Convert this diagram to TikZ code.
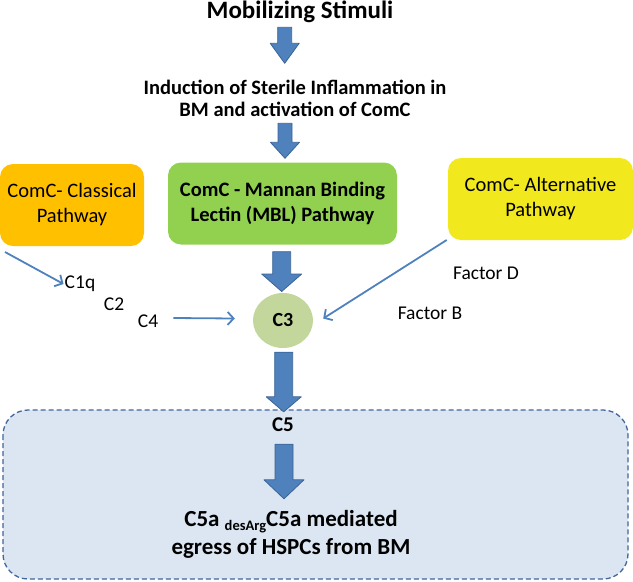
\documentclass[tikz,border=0pt]{standalone}
\usepackage{fontspec}
\setmainfont{Carlito}
\usetikzlibrary{arrows.meta,calc,shapes.geometric}

\definecolor{arrowblue}{HTML}{4F81BD}
\definecolor{arrowedge}{HTML}{3A6496}
\definecolor{classorange}{HTML}{FFC000}
\definecolor{mblgreen}{HTML}{92D050}
\definecolor{altyellow}{HTML}{F2E81E}
\definecolor{cthreegreen}{HTML}{C3D69B}
\definecolor{egressfill}{HTML}{DCE6F2}
\definecolor{egressedge}{HTML}{41669C}

% block arrow: top point, tip point, half shaft, half head, head length
\newcommand{\blockarrow}[5]{%
  \filldraw[blockarr] let \p1=(#1), \p2=(#2) in
    (\x1-#3,\y1) -- (\x1+#3,\y1) -- (\x1+#3,\y2+#5) -- (\x1+#4,\y2+#5)
    -- (\x1,\y2) -- (\x1-#4,\y2+#5) -- (\x1-#3,\y2+#5) -- cycle;}

\begin{document}
\begin{tikzpicture}[%
      x=1pt, y=-1pt,
      blockarr/.style={fill=arrowblue, draw=arrowedge, line width=0.8pt, line join=round},
      thinarr/.style={draw=arrowblue, line width=1.8pt, -{Straight Barb[length=6pt,width=13pt]}},
      pathbox/.style={rounded corners=13pt, align=center, inner sep=0pt,
        font=\fontsize{20.5}{25}\selectfont},
      bigtext/.style={align=center, inner sep=0pt, font=\bfseries\fontsize{20.5}{22}\selectfont},
      label/.style={inner sep=1pt, font=\fontsize{19.5}{23}\selectfont},
      ]
      \useasboundingbox (0,0) rectangle (633,582);

      \filldraw[fill=egressfill, draw=egressedge, line width=1.3pt, dash pattern=on 5pt off 3pt,
        rounded corners=25pt] (3,410) rectangle (628,579);

      \node[bigtext, font=\bfseries\fontsize{25}{27}\selectfont] (stim) at (300,12) {Mobilizing Stimuli};
      \node[bigtext] (induct) at (295,98) {Induction of Sterile Inflammation in\\BM and activation of ComC};

      \node[pathbox, fill=classorange, minimum width=144pt, minimum height=82pt] (classic) at (72,205) {ComC- Classical\\Pathway};
      \node[pathbox, fill=mblgreen, minimum width=229pt, minimum height=82pt,
        font=\bfseries\fontsize{20.5}{25}\selectfont] (mbl) at (282.5,203.5) {ComC - Mannan Binding\\Lectin (MBL) Pathway};
      \node[pathbox, fill=altyellow, minimum width=185pt, minimum height=82pt] (altern) at (540.5,199) {ComC- Alternative\\Pathway};

      \node[ellipse, fill=cthreegreen, minimum width=60pt, minimum height=55pt, inner sep=0pt,
        font=\bfseries\fontsize{20}{23}\selectfont] (cthree) at (283,320.5) {C3};

      \node[label] (coneq) at (80,284) {C1q};
      \node[label] (ctwo) at (114,304) {C2};
      \node[label] (cfour) at (148,321) {C4};
      \node[label] (facd) at (486,273) {Factor D};
      \node[label] (facb) at (430,313) {Factor B};

      \node[bigtext, font=\bfseries\fontsize{21}{23}\selectfont] (cfive) at (283,425) {C5};
      \node[bigtext, font=\bfseries\fontsize{23}{28}\selectfont] (egress) at (291,534)
        {C5a {\fontsize{14.5}{15}\selectfont\raisebox{-4.5pt}{desArg}}C5a mediated\\egress of HSPCs from BM};

      \blockarrow{284.7,27.3}{284.7,63.3}{7pt}{14.5pt}{20pt}
      \blockarrow{285,123.3}{285,158.3}{7pt}{14.5pt}{16pt}
      \blockarrow{$(mbl.south)+(-0.8,7)$}{$(cthree.north)+(0,-1.3)$}{9pt}{20pt}{17.5pt}
      \blockarrow{$(cthree.south)+(0.7,4)$}{$(cfive.north)+(0,-6)$}{9pt}{17.5pt}{15pt}
      \blockarrow{$(cfive.south)+(1,12)$}{$(egress.north)+(-8,-11)$}{9pt}{20pt}{19pt}

      \coordinate (classfoot) at (5,252);
      \coordinate (altfoot) at (446.7,240);
      \draw[thinarr] (classfoot) -- (coneq.west);
      \draw[thinarr] (cfour.east) ++(14,-3) -- ($(cthree.west)+(-18,-2)$);
      \draw[thinarr] (altfoot) -- ($(cthree.east)+(10,-2)$);
\end{tikzpicture}
\end{document}
